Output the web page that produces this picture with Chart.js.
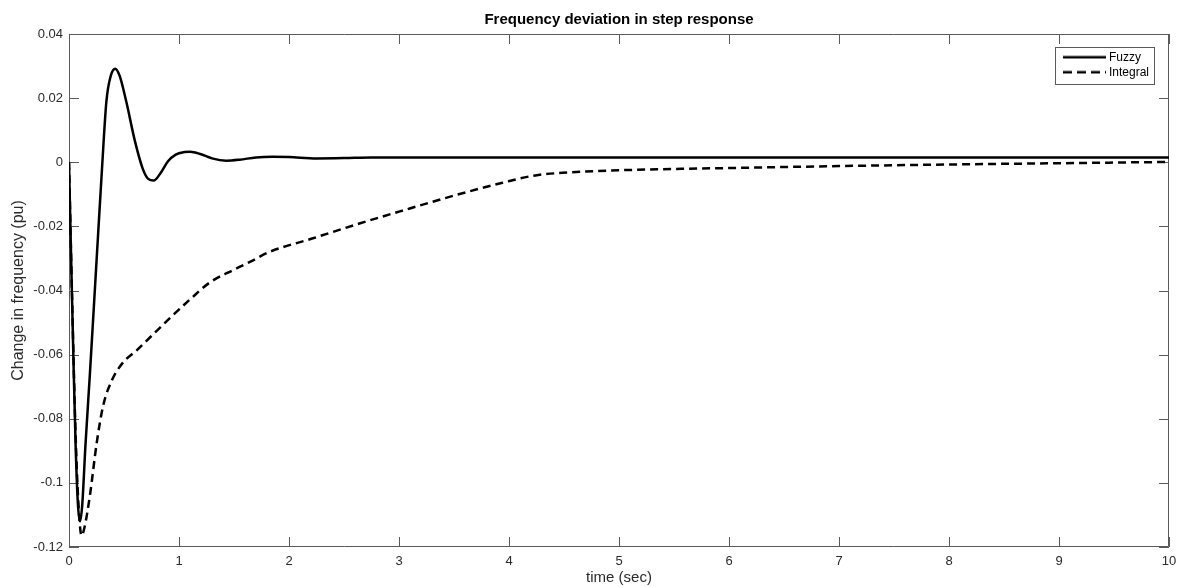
<!DOCTYPE html>
<html>
<head>
<meta charset="utf-8">
<script src="https://cdn.jsdelivr.net/npm/chart.js@4.4.0/dist/chart.umd.min.js"></script>
<style>
html,body{margin:0;padding:0;background:#fff;}
#wrap{width:1180px;height:587px;}
</style>
</head>
<body>
<div id="wrap"><canvas id="c" width="1180" height="587"></canvas></div>
<script>
// ---- data ----
const fuzzyTime = [0, 0.02, 0.04, 0.06, 0.08, 0.1, 0.12, 0.15, 0.19, 0.25, 0.3, 0.34, 0.38, 0.42, 0.46, 0.52, 0.6, 0.67, 0.72, 0.77, 0.83, 0.9, 0.97, 1.05, 1.1, 1.2, 1.3, 1.43, 1.55, 1.7, 1.85, 2.0, 2.25, 2.5, 2.75, 3, 4, 5, 6, 7, 8, 9, 10];
const fuzzyValues = [0, -0.031, -0.061, -0.088, -0.106, -0.112, -0.107, -0.088, -0.066, -0.031, -0.002, 0.019, 0.027, 0.0292, 0.027, 0.019, 0.0065, -0.002, -0.0052, -0.0057, -0.0035, 0.0003, 0.0024, 0.0032, 0.0033, 0.0025, 0.0012, 0.0005, 0.0008, 0.0015, 0.0017, 0.0016, 0.0012, 0.0013, 0.0015, 0.0015, 0.0015, 0.0015, 0.0015, 0.0015, 0.0015, 0.0015, 0.0015];

const integralTime = [0, 0.03, 0.06, 0.09, 0.115, 0.14, 0.19, 0.25, 0.31, 0.39, 0.49, 0.62, 0.74, 0.92, 1.1, 1.28, 1.5, 1.65, 1.82, 2.21, 2.64, 3.09, 3.51, 3.94, 4.24, 4.53, 5, 6, 7, 8, 9, 10];
const integralValues = [0, -0.045, -0.085, -0.109, -0.1165, -0.114, -0.104, -0.088, -0.076, -0.068, -0.0625, -0.0585, -0.0545, -0.0485, -0.0428, -0.0375, -0.0335, -0.031, -0.028, -0.0238, -0.0191, -0.0145, -0.0103, -0.0064, -0.0041, -0.0032, -0.0025, -0.0018, -0.0012, -0.0007, -0.0003, 0.0001];

const seriesNames = ['Fuzzy', 'Integral'];
const xTicks = [0, 1, 2, 3, 4, 5, 6, 7, 8, 9, 10];
const xTickLabels = ['0', '1', '2', '3', '4', '5', '6', '7', '8', '9', '10'];
const yTicks = [-0.12, -0.1, -0.08, -0.06, -0.04, -0.02, 0, 0.02, 0.04];
const yTickLabels = ['-0.12', '-0.1', '-0.08', '-0.06', '-0.04', '-0.02', '0', '0.02', '0.04'];
const chartTitle = 'Frequency deviation in step response';
const xTitle = 'time (sec)';
const yTitle = 'Change in frequency (pu)';

// ---- styling ----
const FONT = '"Liberation Sans", Arial, Helvetica, sans-serif';
const AXIS_COLOR = '#5a5a5a';
const TEXT_COLOR = '#2a2a2a';
const TICK_LEN = 10;
const LINE_W = 2.5;
const DASH = [8, 5];

function labelFor(values, labels, v) {
  const i = values.findIndex(t => Math.abs(t - v) < 1e-9);
  return i >= 0 ? labels[i] : '';
}

// legend sample images (line swatches)
function makeSwatch(dash) {
  const c = document.createElement('canvas');
  c.width = 43; c.height = 4;
  const g = c.getContext('2d');
  g.strokeStyle = '#000';
  g.lineWidth = LINE_W;
  g.setLineDash(dash);
  g.beginPath();
  g.moveTo(0, 2); g.lineTo(43, 2);
  g.stroke();
  return c;
}
const solidSwatch = makeSwatch([]);
const dashSwatch = makeSwatch([9, 5]);

const boxPlugin = {
  id: 'matlabBox',
  beforeDatasetsDraw(chart) {
    const {ctx, chartArea: a, scales} = chart;
    ctx.save();
    ctx.strokeStyle = AXIS_COLOR;
    ctx.lineWidth = 1;
    ctx.beginPath();
    ctx.rect(a.left + 0.5, a.top + 0.5, a.right - a.left - 1, a.bottom - a.top - 1);
    xTicks.forEach(v => {
      const x = Math.round(scales.x.getPixelForValue(v)) + 0.5;
      ctx.moveTo(x, a.bottom); ctx.lineTo(x, a.bottom - TICK_LEN);
      ctx.moveTo(x, a.top); ctx.lineTo(x, a.top + TICK_LEN);
    });
    yTicks.forEach(v => {
      const y = Math.round(scales.y.getPixelForValue(v)) + 0.5;
      ctx.moveTo(a.left, y); ctx.lineTo(a.left + TICK_LEN, y);
      ctx.moveTo(a.right, y); ctx.lineTo(a.right - TICK_LEN, y);
    });
    ctx.stroke();
    ctx.restore();
  }
};

const placer = {
  id: 'placer',
  afterLayout(chart) {
    const a = chart.chartArea;
    // centre the title over the plot area
    const tb = chart.titleBlock;
    if (tb) { tb.left = a.left; tb.right = a.right; tb.width = a.right - a.left; }
    const lg = chart.legend;
    if (!lg) return;
    const pad = lg.options.labels.padding;
    const fs = 12;
    const firstLeft = a.right - 103;
    const firstTop = a.top + 17.3;
    const dx = (firstLeft - pad) - lg.left;
    const dy = (firstTop - pad) - lg.top;
    lg.left += dx; lg.right += dx; lg.top += dy; lg.bottom += dy;
    const hb = lg.legendHitBoxes || [];
    hb.forEach(h => { h.left += dx; h.top += dy; });
    let maxW = 0;
    const ctx = chart.ctx;
    ctx.save();
    ctx.font = fs + 'px ' + FONT;
    seriesNames.forEach(n => { maxW = Math.max(maxW, ctx.measureText(n).width); });
    ctx.restore();
    const bw = lg.options.labels.pointStyleWidth;
    chart.$legendRect = {
      left: firstLeft - 11,
      top: firstTop - 4,
      right: firstLeft + bw + fs / 2 + maxW + 5,
      bottom: firstTop + (seriesNames.length - 1) * (fs + pad) + fs + 6
    };
  },
  afterDraw(chart) {
    const r = chart.$legendRect;
    if (!r) return;
    const ctx = chart.ctx;
    ctx.save();
    ctx.strokeStyle = AXIS_COLOR;
    ctx.lineWidth = 1;
    ctx.strokeRect(Math.round(r.left) + 0.5, Math.round(r.top) + 0.5, Math.round(r.right - r.left), Math.round(r.bottom - r.top));
    ctx.restore();
  }
};

const ctx = document.getElementById('c').getContext('2d');
new Chart(ctx, {
  type: 'line',
  data: {
    datasets: [
      {
        label: seriesNames[0],
        data: fuzzyTime.map((t, i) => ({x: t, y: fuzzyValues[i]})),
        borderColor: '#000000',
        backgroundColor: '#000000',
        borderWidth: LINE_W,
        pointRadius: 0,
        pointStyle: solidSwatch,
        fill: false,
        cubicInterpolationMode: 'monotone'
      },
      {
        label: seriesNames[1],
        data: integralTime.map((t, i) => ({x: t, y: integralValues[i]})),
        borderColor: '#000000',
        backgroundColor: '#000000',
        borderWidth: LINE_W,
        borderDash: DASH,
        pointRadius: 0,
        pointStyle: dashSwatch,
        fill: false,
        cubicInterpolationMode: 'monotone'
      }
    ]
  },
  options: {
    responsive: false,
    animation: false,
    devicePixelRatio: 1,
    layout: {padding: {left: 0, right: 11, top: 0, bottom: 0}},
    plugins: {
      title: {
        display: true,
        text: chartTitle,
        color: '#000000',
        font: {family: FONT, size: 15, weight: 'bold'},
        padding: {top: 11, bottom: 5}
      },
      legend: {
        display: true,
        position: 'chartArea',
        align: 'start',
        labels: {
          usePointStyle: true,
          pointStyleWidth: 37,
          padding: 3,
          color: '#000000',
          font: {family: FONT, size: 12}
        }
      },
      tooltip: {enabled: false}
    },
    scales: {
      x: {
        type: 'linear',
        min: 0,
        max: 10,
        afterBuildTicks: s => { s.ticks = xTicks.map(v => ({value: v})); },
        afterFit: s => { s.height = 40; s.paddingLeft = 0; s.paddingRight = 0; },
        grid: {display: false, drawTicks: false},
        border: {display: false},
        ticks: {
          color: TEXT_COLOR,
          font: {family: FONT, size: 13},
          padding: 7,
          maxRotation: 0,
          autoSkip: false,
          callback: v => labelFor(xTicks, xTickLabels, v)
        },
        title: {
          display: true,
          text: xTitle,
          color: TEXT_COLOR,
          font: {family: FONT, size: 15},
          padding: {top: 0, bottom: 0}
        }
      },
      y: {
        type: 'linear',
        min: -0.12,
        max: 0.04,
        afterBuildTicks: s => { s.ticks = yTicks.map(v => ({value: v})); },
        afterFit: s => { s.width = 69; s.paddingTop = 0; s.paddingBottom = 0; },
        grid: {display: false, drawTicks: false},
        border: {display: false},
        ticks: {
          color: TEXT_COLOR,
          font: {family: FONT, size: 13},
          padding: 6,
          autoSkip: false,
          callback: v => labelFor(yTicks, yTickLabels, v)
        },
        title: {
          display: true,
          text: yTitle,
          color: TEXT_COLOR,
          font: {family: FONT, size: 16},
          padding: {top: 9, bottom: 0}
        }
      }
    }
  },
  plugins: [boxPlugin, placer]
});
</script>
</body>
</html>
